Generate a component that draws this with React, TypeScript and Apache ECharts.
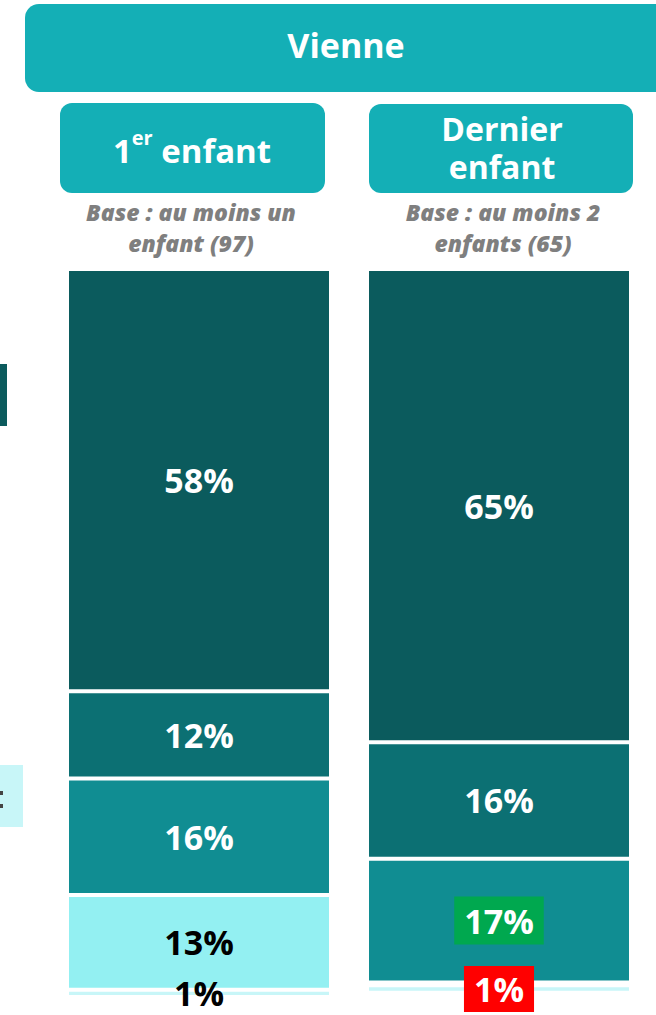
import React, { useEffect, useRef } from "react";
import * as echarts from "echarts";

const categories = ["1er enfant", "Dernier enfant"];
const seg1 = [58, 65];
const seg2 = [12, 16];
const seg3 = [16, 17];
const seg4 = [13, 0.4];
const seg5 = [1, 1];
const segLabels = [
  ["58%", "65%"],
  ["12%", "16%"],
  ["16%", "17%"],
  ["13%", ""],
  ["1%", "1%"],
];
const segColors = ["#0B5B5D", "#0C7073", "#108D92", "#93F0F2", "#C8F6F8"];
const baseLines = [
  ["Base : au moins un", "enfant (97)"],
  ["Base : au moins 2", "enfants (65)"],
];

const FONT = "Open Sans";

export default function App() {
  const ref = useRef<HTMLDivElement>(null);
  useEffect(() => {
    document.body.style.margin = "0";
    const chart = echarts.init(ref.current!, null, { renderer: "svg" });
    const all = [seg1, seg2, seg3, seg4, seg5];
    const series = all.map((arr, si) => ({
      type: "bar",
      stack: "s",
      barWidth: 264,
      data: arr.map((v, ci) => {
        const txt = segLabels[si][ci];
        let label: any = { show: txt !== "", formatter: txt };
        if (si === 3 && ci === 0) label = { ...label, color: "#000" };
        if (si === 4 && ci === 0) label = { ...label, color: "#000", offset: [0, 0] };
        if (si === 2 && ci === 1)
          label = { ...label, backgroundColor: "#00A84F", padding: [8, 10, 6, 10] };
        if (si === 4 && ci === 1)
          label = { ...label, backgroundColor: "#FF0000", padding: [7, 10, 5, 10] };
        return { value: v, label };
      }),
      itemStyle: { color: segColors[si], borderColor: "#fff", borderWidth: 2 },
      label: {
        show: true,
        position: "inside",
        color: "#fff",
        fontFamily: FONT,
        fontWeight: "bold",
        fontSize: 34,
      },
    }));
    const baseText = (x: number, y: number, t: string) => ({
      type: "text", x, y,
      style: { text: t, fill: "#7F7F7F", font: `italic 800 23px '${FONT}'`, align: "center", verticalAlign: "middle" },
    });
    chart.setOption({
      animation: false,
      grid: { left: 49, width: 600, top: 269, height: 728 },
      xAxis: { type: "category", data: categories, show: false },
      yAxis: { type: "value", min: 0, max: 100, inverse: true, show: false },
      series,
      graphic: [
        { type: "rect", shape: { x: 25, y: 4, width: 680, height: 88, r: 14 }, style: { fill: "#14AFB6" } },
        {
          type: "text", x: 346, y: 45,
          style: { text: "Vienne", fill: "#fff", font: `bold 34px '${FONT}'`, align: "center", verticalAlign: "middle" },
        },
        { type: "rect", shape: { x: 60, y: 103, width: 265, height: 90, r: 12 }, style: { fill: "#14AFB6" } },
        {
          type: "text", x: 192, y: 147,
          style: {
            text: "{a|1}{s|er}{a| enfant}",
            align: "center",
            verticalAlign: "middle",
            rich: {
              a: { fill: "#fff", fontFamily: FONT, fontWeight: "bold", fontSize: 33, lineHeight: 40, verticalAlign: "bottom" },
              s: { fill: "#fff", fontFamily: FONT, fontWeight: "bold", fontSize: 20, lineHeight: 40, verticalAlign: "top", padding: [0, 0, 11, 0] },
            },
          },
        },
        { type: "rect", shape: { x: 369, y: 104, width: 264, height: 89, r: 12 }, style: { fill: "#14AFB6" } },
        {
          type: "text", x: 502, y: 128,
          style: { text: "Dernier", fill: "#fff", font: `bold 32px '${FONT}'`, align: "center", verticalAlign: "middle" },
        },
        {
          type: "text", x: 502, y: 166,
          style: { text: "enfant", fill: "#fff", font: `bold 32px '${FONT}'`, align: "center", verticalAlign: "middle" },
        },
        baseText(191, 212, baseLines[0][0]),
        baseText(191, 243, baseLines[0][1]),
        baseText(503, 212, baseLines[1][0]),
        baseText(503, 243, baseLines[1][1]),
        { type: "rect", shape: { x: 0, y: 364, width: 7, height: 62 }, style: { fill: "#0B5B5D" } },
        { type: "rect", shape: { x: 0, y: 765, width: 23, height: 62 }, style: { fill: "#C8F6F8" } },
        { type: "rect", shape: { x: 0, y: 791, width: 3, height: 4 }, style: { fill: "#444" } },
        { type: "rect", shape: { x: 0, y: 804, width: 3, height: 4 }, style: { fill: "#444" } },
      ],
    });
    return () => chart.dispose();
  }, []);
  return <div ref={ref} style={{ width: 656, height: 1015 }} />;
}
